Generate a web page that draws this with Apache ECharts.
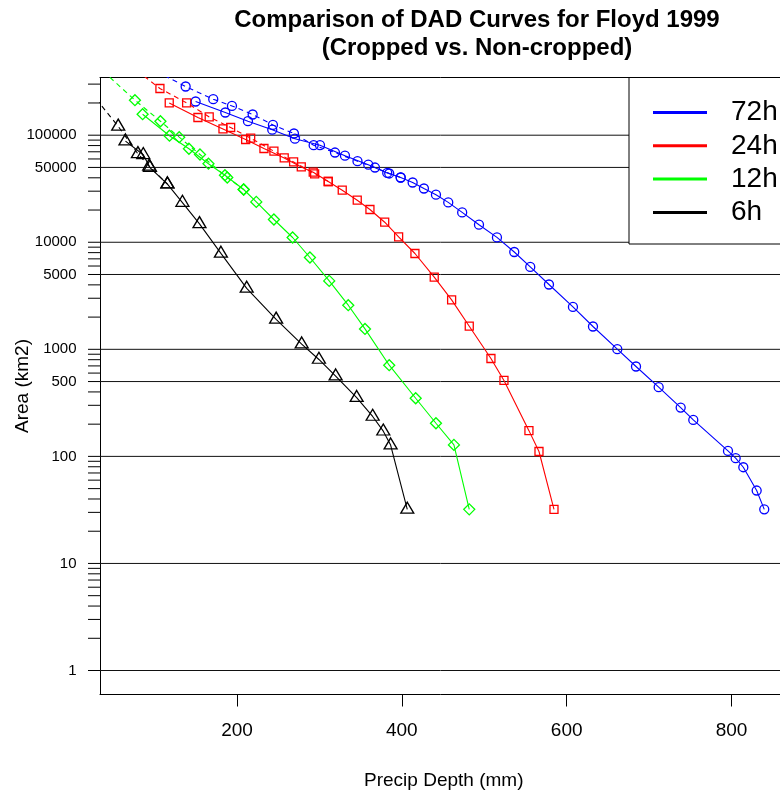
<!DOCTYPE html>
<html><head><meta charset="utf-8">
<script src="https://cdn.jsdelivr.net/npm/echarts@6/dist/echarts.min.js"></script>
<style>html,body{margin:0;padding:0;background:#fff}#c{width:780px;height:794px}</style>
</head><body><div id="c"></div>
<script>
// ---- data (precip depth in mm, area in km2) ----
// solid lines (cropped)
const depth72 = [149.8,185.8,213.3,242.8,270.3,300.7,331.0,359.3,382.3,398.6,413.1,426.8,441.4,456.3,473.2,493.6,515.4,536.4,555.8,578.5,607.6,631.9,661.4,684.1,711.6,738.3,753.6,795.7,805.0,814.3,830.5,839.7];
const area72  = [206500,162900,135100,112600,92750,80660,64350,53030,44460,40260,36160,31780,27810,23570,19000,14590,11100,8110,5886,4031,2490,1634,1003,691,443,286,219,112.5,96.2,79.2,48.0,32];
const depth24 = [117.8,152.6,183.0,210.5,232.7,257.3,278.0,292.5,310.7,327.7,345.9,361.3,379.2,396.1,415.9,439.3,460.4,481.8,508.1,523.9,554.2,566.4,584.6];
const area24  = [200300,146300,114500,91170,75100,61380,50580,45120,36940,30640,24710,20230,15390,11220,7852,4718,2894,1644,821,512,174,111.1,32];
const depth12 = [85.5,118.1,141.7,165.4,185.4,208.1,223.4,244.8,267.5,288.5,311.9,335.0,355.3,384.7,416.8,441.4,463.2,481.8];
const area12  = [157100,98930,74770,54180,42310,31100,23820,16320,11080,7206,4356,2583,1551,711,349,204,128,32];
const depth6  = [64.7,86.3,94.4,115.6,133.8,154.5,180.5,211.8,247.5,278.5,299.4,319.7,345.2,364.6,377.5,386.4,406.6];
const area6   = [88100,65600,49900,34900,23500,14870,7880,3710,1907,1119,804,562,354,236,172,127.5,32];
// dashed lines (non-cropped)
const depth72nc = [83.1,137.7,171.2,193.9,219.0,243.6,269.1,293.0,318.9,346.2,367.4,384.7,398.6];
const area72nc  = [470500,285000,216900,187800,156100,124800,103700,80660,68900,57160,49900,43900,40260];
const depth24nc = [70.1,106.5,138.9,166.3,192.3,216.6,244.8,268.7,294.2,310.7];
const area24nc  = [450600,273100,200300,148200,118000,93760,70890,56310,43500,36940];
const depth12nc = [21.6,76.2,107.1,129.9,155.1,188.2,208.1];
const area12nc  = [512800,212300,135100,95790,66020,40260,31100];
const depth6nc  = [15.5,55.9,79.8,93.5,115.6];
const area6nc   = [293200,121000,67000,51200,34900];

// axis ticks / labels
const yTickVals = [1,2,3,4,5,6,7,8,9,10,20,30,40,50,60,70,80,90,100,200,300,400,500,600,700,800,900,
  1000,2000,3000,4000,5000,6000,7000,8000,9000,10000,20000,30000,40000,50000,60000,70000,80000,90000,100000,200000,300000];
const yLabelVals = [1,10,100,500,1000,5000,10000,50000,100000];
const xTickVals = [200,400,600,800];

const X_MIN = 33.8, X_MAX = 867.9, Y_MIN = 0.597, Y_MAX = 345900;
const FONT = '"Liberation Sans", Arial, sans-serif';

function pairs(xs, ys) { return xs.map((x, i) => [x, ys[i]]); }

function lineSeries(name, xs, ys, color, symbol, size, dashed, offset) {
  return {
    name: name, type: 'line', data: pairs(xs, ys),
    symbol: symbol, symbolSize: size, symbolOffset: offset || [0, 0],
    showSymbol: true, clip: true, silent: true, z: 3,
    lineStyle: { color: color, width: 1.1, type: dashed ? [5, 4] : 'solid' },
    itemStyle: { color: 'rgba(0,0,0,0)', borderColor: color, borderWidth: 1.3 },
    emphasis: { disabled: true }
  };
}

const chart = echarts.init(document.getElementById('c'), null, { renderer: 'canvas' });
chart.setOption({
  animation: false,
  textStyle: { fontFamily: FONT },
  title: {
    text: 'Comparison of DAD Curves for Floyd 1999\n(Cropped vs. Non-cropped)',
    left: 472, top: 1, textAlign: 'center',
    textStyle: { fontSize: 24, fontWeight: 'bold', lineHeight: 28, color: '#000', fontFamily: FONT }
  },
  grid: { left: 100, top: 77.5, width: 687.5, height: 617, show: false, containLabel: false, outerBoundsMode: 'none' },
  xAxis: [{
    type: 'value', min: X_MIN, max: X_MAX, position: 'bottom',
    axisLine: { show: true, onZero: false, lineStyle: { color: '#000', width: 1 } },
    splitLine: { show: false },
    axisTick: { show: true, length: 12, lineStyle: { color: '#000', width: 1 }, customValues: xTickVals },
    axisLabel: { customValues: xTickVals, fontSize: 19, margin: 27, color: '#000', fontFamily: FONT },
    name: 'Precip Depth (mm)', nameLocation: 'middle', nameGap: 77,
    nameTextStyle: { fontSize: 19, color: '#000', fontFamily: FONT }
  }, {
    type: 'value', min: X_MIN, max: X_MAX, position: 'top',
    axisLine: { show: true, onZero: false, lineStyle: { color: '#000', width: 1 } },
    splitLine: { show: false }, axisTick: { show: false }, axisLabel: { show: false }
  }],
  yAxis: {
    type: 'log', logBase: 10, min: Y_MIN, max: Y_MAX,
    axisLine: { show: true, onZero: false, lineStyle: { color: '#000', width: 1 } },
    axisTick: { show: false }, axisLabel: { show: false },
    splitLine: { show: false }, minorTick: { show: false },
    name: 'Area (km2)', nameLocation: 'middle', nameGap: 68, nameRotate: 90,
    nameTextStyle: { fontSize: 19, color: '#000', fontFamily: FONT }
  },
  legend: {
    data: [
      { name: '72h', itemStyle: { color: '#0000ff' } },
      { name: '24h', itemStyle: { color: '#ff0000' } },
      { name: '12h', itemStyle: { color: '#00ff00' } },
      { name: '6h',  itemStyle: { color: '#000000' } }
    ],
    orient: 'vertical', left: 653, top: 98.5, padding: 0,
    icon: 'rect', itemWidth: 52, itemHeight: 1, itemGap: 5.3,
    selectedMode: false, z: 10,
    textStyle: { fontSize: 28, color: '#000', fontFamily: FONT, padding: [0, 0, 0, 20] }
  },
  graphic: [{
    type: 'rect', z: 5,
    shape: { x: 629, y: 77.5, width: 200, height: 166.5 },
    style: { fill: '#fff', stroke: '#000', lineWidth: 1 }
  }],
  series: [
    {
      type: 'custom', name: 'yticks', silent: true, z: 1, clip: false,
      data: yTickVals.map(v => [X_MIN, v]),
      renderItem: function (params, api) {
        const p = api.coord([api.value(0), api.value(1)]);
        return { type: 'line', shape: { x1: p[0] - 12, y1: p[1], x2: p[0], y2: p[1] }, style: { stroke: '#000', lineWidth: 1 } };
      }
    },
    {
      type: 'custom', name: 'ylabels', silent: true, z: 1, clip: false,
      data: yLabelVals.map(v => [X_MIN, v]),
      renderItem: function (params, api) {
        const v = api.value(1);
        const p = api.coord([X_MIN, v]);
        const q = api.coord([X_MAX, v]);
        return { type: 'group', children: [
          { type: 'line', shape: { x1: p[0], y1: p[1], x2: q[0], y2: q[1] }, style: { stroke: '#111', lineWidth: 1 } },
          { type: 'text', style: { text: String(v), x: p[0] - 23.5, y: p[1], align: 'right', verticalAlign: 'middle', fontSize: 15, fontFamily: FONT, fill: '#000' } }
        ] };
      }
    },
    lineSeries('72h', depth72, area72, '#0000ff', 'circle', 9, false),
    lineSeries('72h non-cropped', depth72nc, area72nc, '#0000ff', 'circle', 9, true),
    lineSeries('24h', depth24, area24, '#ff0000', 'rect', 8, false),
    lineSeries('24h non-cropped', depth24nc, area24nc, '#ff0000', 'rect', 8, true),
    lineSeries('12h', depth12, area12, '#00ff00', 'diamond', 11, false),
    lineSeries('12h non-cropped', depth12nc, area12nc, '#00ff00', 'diamond', 11, true),
    lineSeries('6h', depth6, area6, '#000000', 'triangle', [13, 11], false, [0, -1.7]),
    lineSeries('6h non-cropped', depth6nc, area6nc, '#000000', 'triangle', [13, 11], true, [0, -1.7])
  ]
});
</script></body></html>
